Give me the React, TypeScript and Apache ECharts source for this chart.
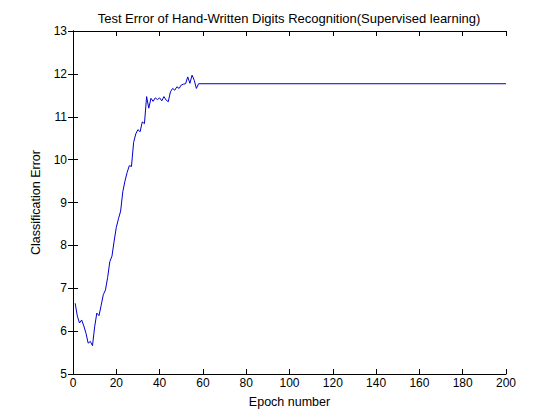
import React, { useEffect, useRef } from "react";
import * as echarts from "echarts";

const epochs = [
  1, 2, 3, 4, 5, 6, 7, 8, 9, 10, 11, 12, 13, 14, 15, 16, 17, 18, 19, 20,
  21, 22, 23, 24, 25, 26, 27, 28, 29, 30, 31, 32, 33, 34, 35, 36, 37, 38, 39, 40,
  41, 42, 43, 44, 45, 46, 47, 48, 49, 50, 51, 52, 53, 54, 55, 56, 57, 58, 200,
];
const errors = [
  6.65, 6.35, 6.19, 6.26, 6.12, 5.95, 5.72, 5.76, 5.66, 6.1,
  6.42, 6.36, 6.6, 6.85, 6.96, 7.25, 7.62, 7.75, 8.1, 8.42,
  8.62, 8.8, 9.25, 9.5, 9.7, 9.86, 9.84, 10.4, 10.6, 10.7,
  10.65, 10.88, 10.84, 11.47, 11.2, 11.43, 11.36, 11.44, 11.4, 11.44,
  11.37, 11.47, 11.39, 11.35, 11.58, 11.66, 11.62, 11.7, 11.66, 11.74,
  11.76, 11.77, 11.93, 11.78, 11.97, 11.85, 11.66, 11.77, 11.77,
];

const titleText = "Test Error of Hand-Written Digits Recognition(Supervised learning)";
const xName = "Epoch number";
const yName = "Classification Error";

export default function App() {
  const ref = useRef<HTMLDivElement>(null);
  useEffect(() => {
    document.body.style.margin = "0";
    const chart = echarts.init(ref.current!, null, { renderer: "svg" });
    const font = "Liberation Sans, Arial, Helvetica, sans-serif";
    const axisLine = { show: true, lineStyle: { color: "#000", width: 1 } };
    const tick = { show: true, inside: true, length: 5, lineStyle: { color: "#000" } };
    chart.setOption({
      animation: false,
      backgroundColor: "#ffffff",
      graphic: [
        {
          type: "text",
          x: 289,
          y: 18,
          style: {
            text: titleText,
            fontFamily: font,
            fontSize: 13,
            fill: "#000",
            align: "center",
            verticalAlign: "middle",
          },
        },
      ],
      grid: { left: 73, right: 54, top: 31, bottom: 46, containLabel: false },
      xAxis: [
        {
          type: "value",
          min: 0,
          max: 200,
          interval: 20,
          position: "bottom",
          name: xName,
          nameLocation: "middle",
          nameGap: 21,
          nameTextStyle: { fontFamily: font, fontSize: 12.5, color: "#000" },
          axisLine,
          axisTick: tick,
          axisLabel: { fontFamily: font, fontSize: 12, color: "#000", margin: 3 },
          splitLine: { show: false },
        },
        {
          type: "value",
          min: 0,
          max: 200,
          interval: 20,
          position: "top",
          axisLine,
          axisTick: tick,
          axisLabel: { show: false },
          splitLine: { show: false },
        },
      ],
      yAxis: [
        {
          type: "value",
          min: 5,
          max: 13,
          interval: 1,
          position: "left",
          name: yName,
          nameLocation: "middle",
          nameGap: 25,
          nameTextStyle: { fontFamily: font, fontSize: 12.5, color: "#000" },
          axisLine,
          axisTick: tick,
          axisLabel: { fontFamily: font, fontSize: 12, color: "#000", margin: 6 },
          splitLine: { show: false },
        },
        {
          type: "value",
          min: 5,
          max: 13,
          interval: 1,
          position: "right",
          axisLine,
          axisTick: tick,
          axisLabel: { show: false },
          splitLine: { show: false },
        },
      ],
      series: [
        {
          type: "line",
          data: epochs.map((e, i) => [e, errors[i]]),
          showSymbol: false,
          symbol: "none",
          lineStyle: { color: "#0000cc", width: 1 },
          xAxisIndex: 0,
          yAxisIndex: 0,
        },
      ],
    });
    return () => chart.dispose();
  }, []);
  return <div ref={ref} style={{ width: 560, height: 420 }} />;
}
